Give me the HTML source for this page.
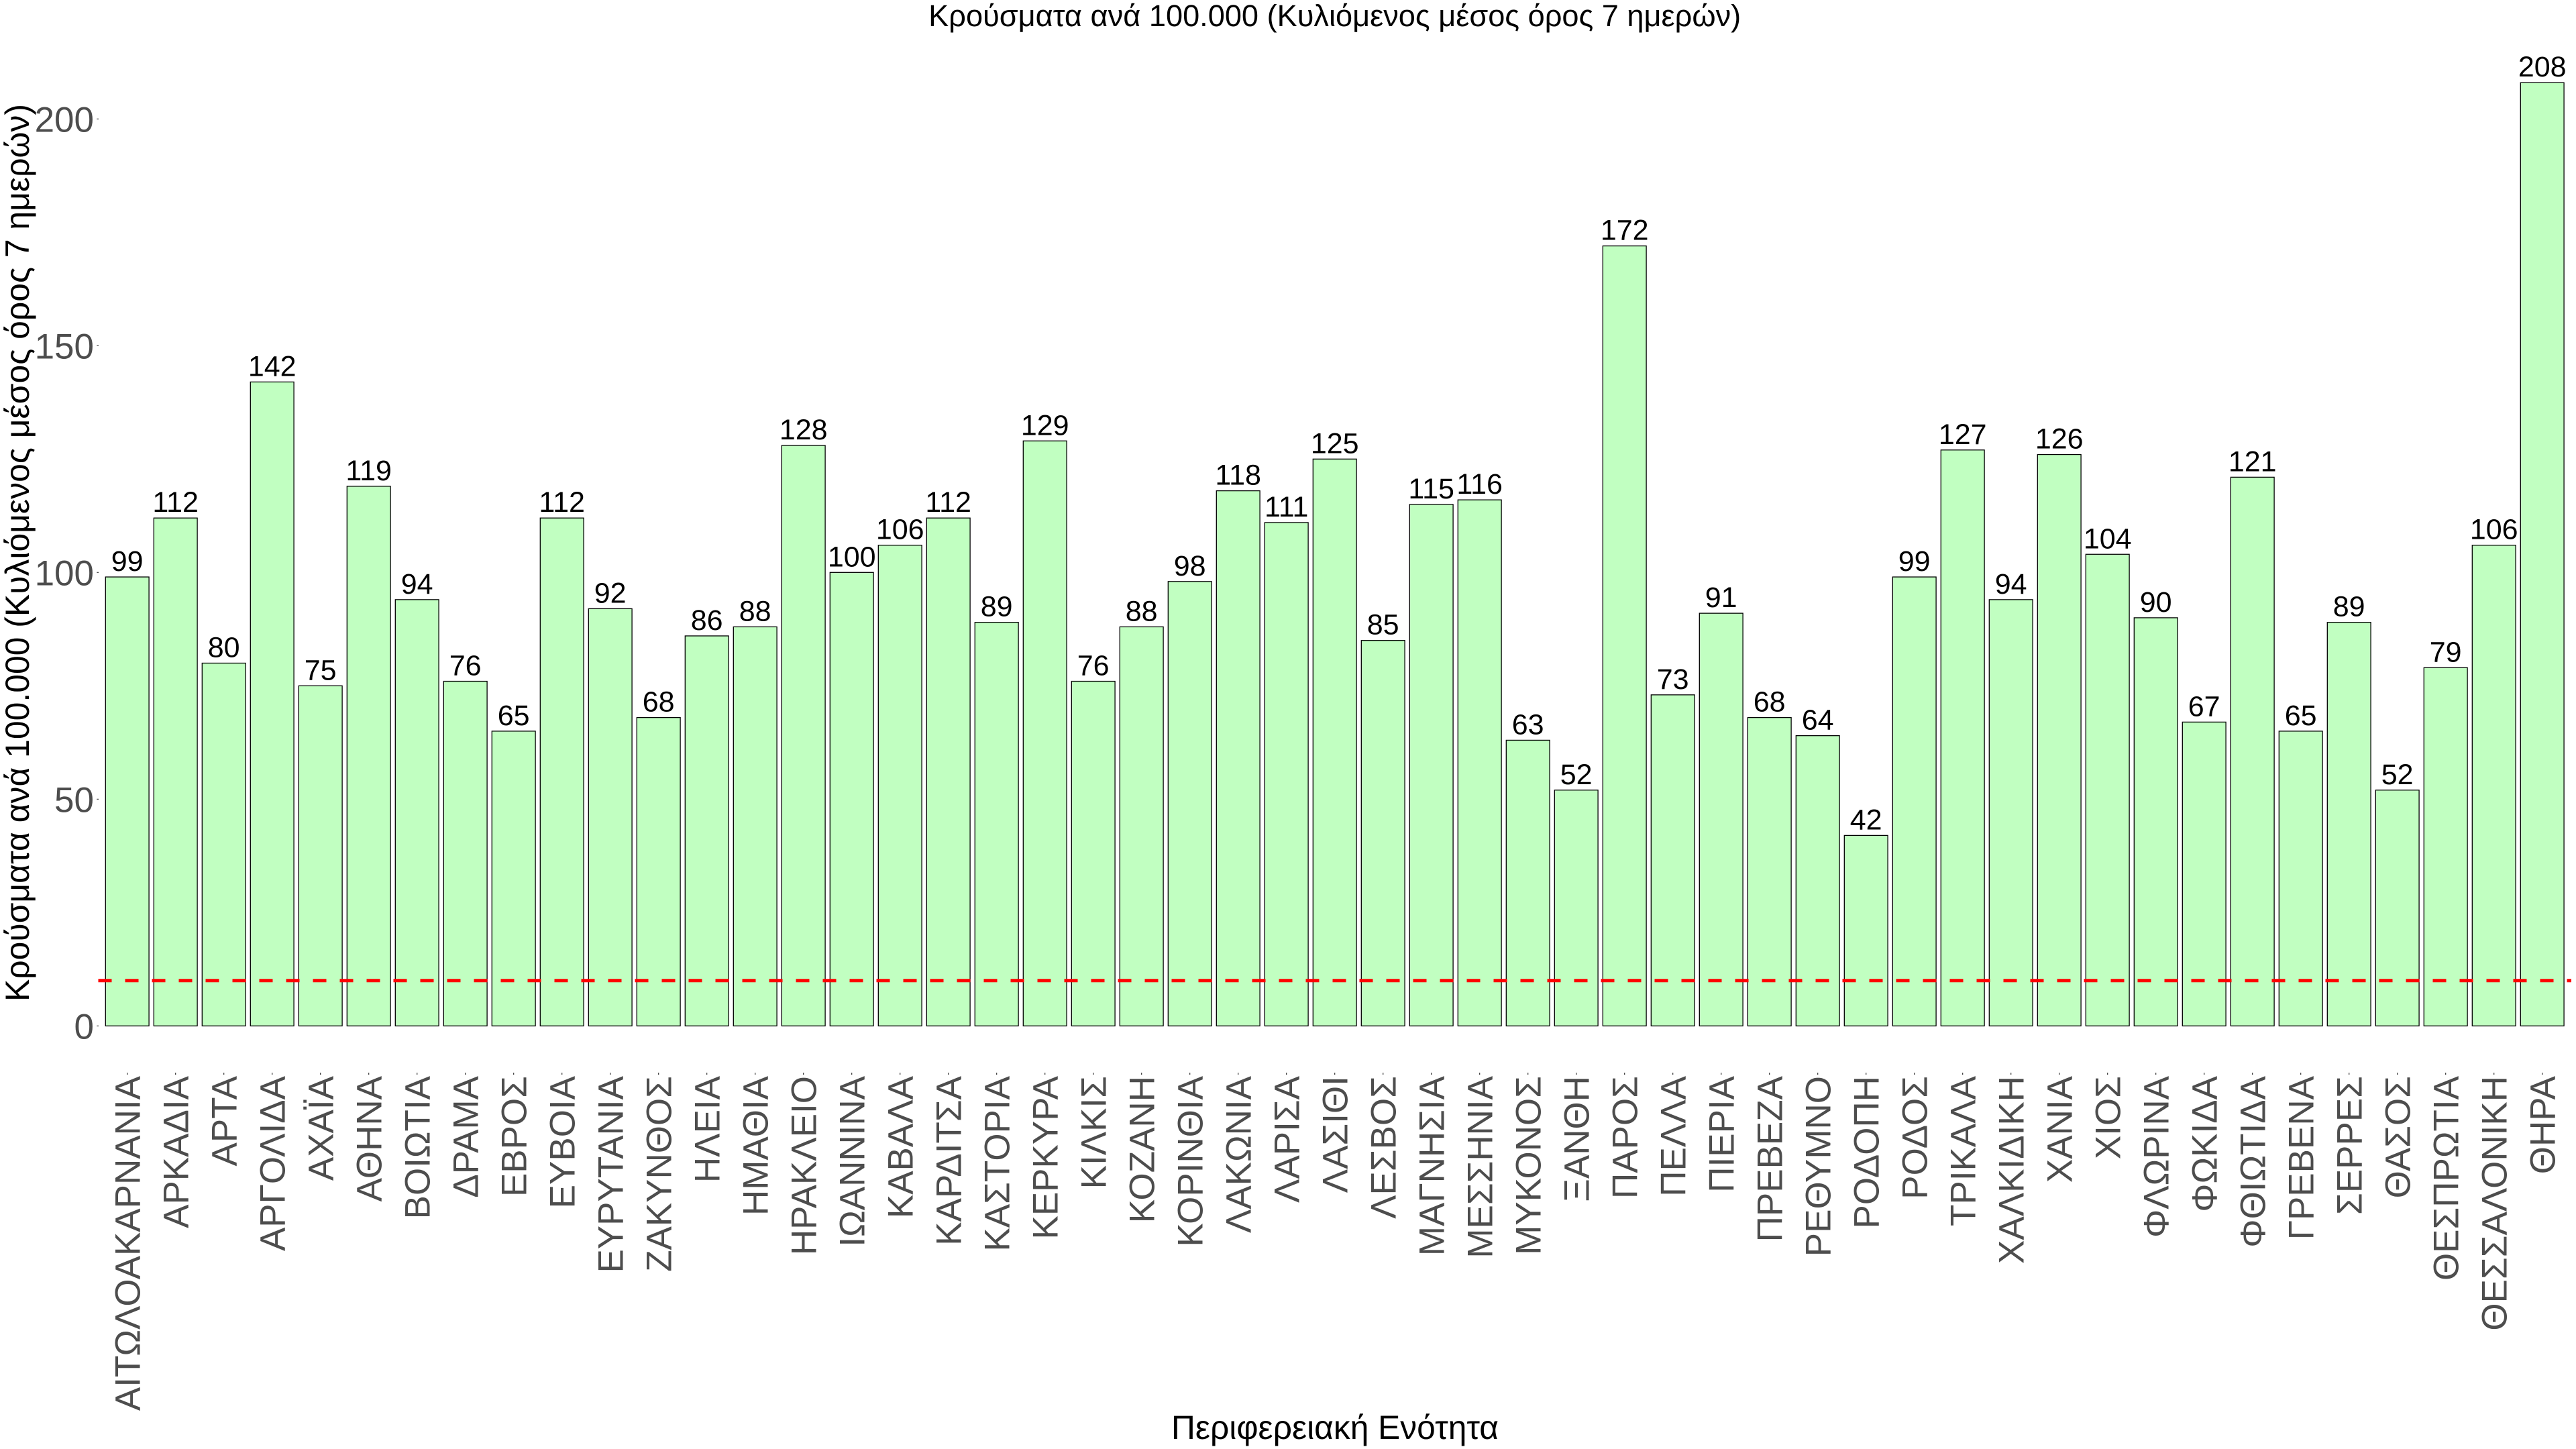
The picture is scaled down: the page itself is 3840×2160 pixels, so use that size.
<!DOCTYPE html>
<html><head><meta charset="utf-8"><style>
html,body{margin:0;padding:0;background:#fff;}
svg{display:block;}
text{font-family:"Liberation Sans",Arial,sans-serif;}
</style></head><body>
<svg width="3840" height="2160" viewBox="0 0 3840 2160" xmlns="http://www.w3.org/2000/svg">
<rect width="3840" height="2160" fill="#fff"/>
<!-- title -->
<text x="1989.7" y="39" font-size="45" text-anchor="middle" fill="#000" textLength="1211" lengthAdjust="spacingAndGlyphs">Κρούσματα ανά 100.000 (Κυλιόμενος μέσος όρος 7 ημερών)</text>
<!-- y title -->
<text transform="translate(43,824) rotate(-90)" font-size="50" text-anchor="middle" fill="#000" textLength="1338" lengthAdjust="spacingAndGlyphs">Κρούσματα ανά 100.000 (Κυλιόμενος μέσος όρος 7 ημερών)</text>
<!-- x title -->
<text x="1990" y="2145" font-size="50" text-anchor="middle" fill="#000" textLength="488" lengthAdjust="spacingAndGlyphs">Περιφερειακή Ενότητα</text>
<!-- y ticks -->
<g stroke="#333" stroke-width="1.2">
<path d="M144.3 1529.3H147M144.3 1191.3H147M144.3 853.3H147M144.3 515.3H147M144.3 177.3H147"/>
</g>
<g font-size="53" fill="#4D4D4D" text-anchor="end">
<text x="140" y="1548.3">0</text>
<text x="140" y="1210.3">50</text>
<text x="140" y="872.3">100</text>
<text x="140" y="534.3">150</text>
<text x="140" y="196.3">200</text>
</g>
<!-- bars -->
<g fill="#C1FFC1" stroke="#000" stroke-width="1.3">
<rect x="157.3" y="860.06" width="64.8" height="669.24"/>
<rect x="229.3" y="772.18" width="64.8" height="757.12"/>
<rect x="301.3" y="988.5" width="64.8" height="540.8"/>
<rect x="373.3" y="569.38" width="64.8" height="959.92"/>
<rect x="445.3" y="1022.3" width="64.8" height="507"/>
<rect x="517.3" y="724.86" width="64.8" height="804.44"/>
<rect x="589.3" y="893.86" width="64.8" height="635.44"/>
<rect x="661.3" y="1015.54" width="64.8" height="513.76"/>
<rect x="733.3" y="1089.9" width="64.8" height="439.4"/>
<rect x="805.3" y="772.18" width="64.8" height="757.12"/>
<rect x="877.3" y="907.38" width="64.8" height="621.92"/>
<rect x="949.3" y="1069.62" width="64.8" height="459.68"/>
<rect x="1021.3" y="947.94" width="64.8" height="581.36"/>
<rect x="1093.3" y="934.42" width="64.8" height="594.88"/>
<rect x="1165.3" y="664.02" width="64.8" height="865.28"/>
<rect x="1237.3" y="853.3" width="64.8" height="676"/>
<rect x="1309.3" y="812.74" width="64.8" height="716.56"/>
<rect x="1381.3" y="772.18" width="64.8" height="757.12"/>
<rect x="1453.3" y="927.66" width="64.8" height="601.64"/>
<rect x="1525.3" y="657.26" width="64.8" height="872.04"/>
<rect x="1597.3" y="1015.54" width="64.8" height="513.76"/>
<rect x="1669.3" y="934.42" width="64.8" height="594.88"/>
<rect x="1741.3" y="866.82" width="64.8" height="662.48"/>
<rect x="1813.3" y="731.62" width="64.8" height="797.68"/>
<rect x="1885.3" y="778.94" width="64.8" height="750.36"/>
<rect x="1957.3" y="684.3" width="64.8" height="845"/>
<rect x="2029.3" y="954.7" width="64.8" height="574.6"/>
<rect x="2101.3" y="751.9" width="64.8" height="777.4"/>
<rect x="2173.3" y="745.14" width="64.8" height="784.16"/>
<rect x="2245.3" y="1103.42" width="64.8" height="425.88"/>
<rect x="2317.3" y="1177.78" width="64.8" height="351.52"/>
<rect x="2389.3" y="366.58" width="64.8" height="1162.72"/>
<rect x="2461.3" y="1035.82" width="64.8" height="493.48"/>
<rect x="2533.3" y="914.14" width="64.8" height="615.16"/>
<rect x="2605.3" y="1069.62" width="64.8" height="459.68"/>
<rect x="2677.3" y="1096.66" width="64.8" height="432.64"/>
<rect x="2749.3" y="1245.38" width="64.8" height="283.92"/>
<rect x="2821.3" y="860.06" width="64.8" height="669.24"/>
<rect x="2893.3" y="670.78" width="64.8" height="858.52"/>
<rect x="2965.3" y="893.86" width="64.8" height="635.44"/>
<rect x="3037.3" y="677.54" width="64.8" height="851.76"/>
<rect x="3109.3" y="826.26" width="64.8" height="703.04"/>
<rect x="3181.3" y="920.9" width="64.8" height="608.4"/>
<rect x="3253.3" y="1076.38" width="64.8" height="452.92"/>
<rect x="3325.3" y="711.34" width="64.8" height="817.96"/>
<rect x="3397.3" y="1089.9" width="64.8" height="439.4"/>
<rect x="3469.3" y="927.66" width="64.8" height="601.64"/>
<rect x="3541.3" y="1177.78" width="64.8" height="351.52"/>
<rect x="3613.3" y="995.26" width="64.8" height="534.04"/>
<rect x="3685.3" y="812.74" width="64.8" height="716.56"/>
<rect x="3757.3" y="123.22" width="64.8" height="1406.08"/>
</g>
<!-- reference line -->
<line x1="146.5" y1="1461.7" x2="3833" y2="1461.7" stroke="#FF0000" stroke-width="5" stroke-dasharray="20 20"/>
<!-- bar labels -->
<g font-size="43" fill="#000" text-anchor="middle">
<text x="189.7" y="851.06">99</text>
<text x="261.7" y="763.18">112</text>
<text x="333.7" y="979.5">80</text>
<text x="405.7" y="560.38">142</text>
<text x="477.7" y="1013.3">75</text>
<text x="549.7" y="715.86">119</text>
<text x="621.7" y="884.86">94</text>
<text x="693.7" y="1006.54">76</text>
<text x="765.7" y="1080.9">65</text>
<text x="837.7" y="763.18">112</text>
<text x="909.7" y="898.38">92</text>
<text x="981.7" y="1060.62">68</text>
<text x="1053.7" y="938.94">86</text>
<text x="1125.7" y="925.42">88</text>
<text x="1197.7" y="655.02">128</text>
<text x="1269.7" y="844.3">100</text>
<text x="1341.7" y="803.74">106</text>
<text x="1413.7" y="763.18">112</text>
<text x="1485.7" y="918.66">89</text>
<text x="1557.7" y="648.26">129</text>
<text x="1629.7" y="1006.54">76</text>
<text x="1701.7" y="925.42">88</text>
<text x="1773.7" y="857.82">98</text>
<text x="1845.7" y="722.62">118</text>
<text x="1917.7" y="769.94">111</text>
<text x="1989.7" y="675.3">125</text>
<text x="2061.7" y="945.7">85</text>
<text x="2133.7" y="742.9">115</text>
<text x="2205.7" y="736.14">116</text>
<text x="2277.7" y="1094.42">63</text>
<text x="2349.7" y="1168.78">52</text>
<text x="2421.7" y="357.58">172</text>
<text x="2493.7" y="1026.82">73</text>
<text x="2565.7" y="905.14">91</text>
<text x="2637.7" y="1060.62">68</text>
<text x="2709.7" y="1087.66">64</text>
<text x="2781.7" y="1236.38">42</text>
<text x="2853.7" y="851.06">99</text>
<text x="2925.7" y="661.78">127</text>
<text x="2997.7" y="884.86">94</text>
<text x="3069.7" y="668.54">126</text>
<text x="3141.7" y="817.26">104</text>
<text x="3213.7" y="911.9">90</text>
<text x="3285.7" y="1067.38">67</text>
<text x="3357.7" y="702.34">121</text>
<text x="3429.7" y="1080.9">65</text>
<text x="3501.7" y="918.66">89</text>
<text x="3573.7" y="1168.78">52</text>
<text x="3645.7" y="986.26">79</text>
<text x="3717.7" y="803.74">106</text>
<text x="3789.7" y="114.22">208</text>
</g>
<!-- x ticks -->
<path stroke="#333" stroke-width="1.2" d="M189.7 1599V1602M261.7 1599V1602M333.7 1599V1602M405.7 1599V1602M477.7 1599V1602M549.7 1599V1602M621.7 1599V1602M693.7 1599V1602M765.7 1599V1602M837.7 1599V1602M909.7 1599V1602M981.7 1599V1602M1053.7 1599V1602M1125.7 1599V1602M1197.7 1599V1602M1269.7 1599V1602M1341.7 1599V1602M1413.7 1599V1602M1485.7 1599V1602M1557.7 1599V1602M1629.7 1599V1602M1701.7 1599V1602M1773.7 1599V1602M1845.7 1599V1602M1917.7 1599V1602M1989.7 1599V1602M2061.7 1599V1602M2133.7 1599V1602M2205.7 1599V1602M2277.7 1599V1602M2349.7 1599V1602M2421.7 1599V1602M2493.7 1599V1602M2565.7 1599V1602M2637.7 1599V1602M2709.7 1599V1602M2781.7 1599V1602M2853.7 1599V1602M2925.7 1599V1602M2997.7 1599V1602M3069.7 1599V1602M3141.7 1599V1602M3213.7 1599V1602M3285.7 1599V1602M3357.7 1599V1602M3429.7 1599V1602M3501.7 1599V1602M3573.7 1599V1602M3645.7 1599V1602M3717.7 1599V1602M3789.7 1599V1602"/>
<!-- x labels -->
<g font-size="53" fill="#4D4D4D" text-anchor="end">
<text transform="translate(208.7,1604) rotate(-90)">ΑΙΤΩΛΟΑΚΑΡΝΑΝΙΑ</text>
<text transform="translate(280.7,1604) rotate(-90)">ΑΡΚΑΔΙΑ</text>
<text transform="translate(352.7,1604) rotate(-90)">ΑΡΤΑ</text>
<text transform="translate(424.7,1604) rotate(-90)">ΑΡΓΟΛΙΔΑ</text>
<text transform="translate(496.7,1604) rotate(-90)">ΑΧΑΪΑ</text>
<text transform="translate(568.7,1604) rotate(-90)">ΑΘΗΝΑ</text>
<text transform="translate(640.7,1604) rotate(-90)">ΒΟΙΩΤΙΑ</text>
<text transform="translate(712.7,1604) rotate(-90)">ΔΡΑΜΑ</text>
<text transform="translate(784.7,1604) rotate(-90)">ΕΒΡΟΣ</text>
<text transform="translate(856.7,1604) rotate(-90)">ΕΥΒΟΙΑ</text>
<text transform="translate(928.7,1604) rotate(-90)">ΕΥΡΥΤΑΝΙΑ</text>
<text transform="translate(1000.7,1604) rotate(-90)">ΖΑΚΥΝΘΟΣ</text>
<text transform="translate(1072.7,1604) rotate(-90)">ΗΛΕΙΑ</text>
<text transform="translate(1144.7,1604) rotate(-90)">ΗΜΑΘΙΑ</text>
<text transform="translate(1216.7,1604) rotate(-90)">ΗΡΑΚΛΕΙΟ</text>
<text transform="translate(1288.7,1604) rotate(-90)">ΙΩΑΝΝΙΝΑ</text>
<text transform="translate(1360.7,1604) rotate(-90)">ΚΑΒΑΛΑ</text>
<text transform="translate(1432.7,1604) rotate(-90)">ΚΑΡΔΙΤΣΑ</text>
<text transform="translate(1504.7,1604) rotate(-90)">ΚΑΣΤΟΡΙΑ</text>
<text transform="translate(1576.7,1604) rotate(-90)">ΚΕΡΚΥΡΑ</text>
<text transform="translate(1648.7,1604) rotate(-90)">ΚΙΛΚΙΣ</text>
<text transform="translate(1720.7,1604) rotate(-90)">ΚΟΖΑΝΗ</text>
<text transform="translate(1792.7,1604) rotate(-90)">ΚΟΡΙΝΘΙΑ</text>
<text transform="translate(1864.7,1604) rotate(-90)">ΛΑΚΩΝΙΑ</text>
<text transform="translate(1936.7,1604) rotate(-90)">ΛΑΡΙΣΑ</text>
<text transform="translate(2008.7,1604) rotate(-90)">ΛΑΣΙΘΙ</text>
<text transform="translate(2080.7,1604) rotate(-90)">ΛΕΣΒΟΣ</text>
<text transform="translate(2152.7,1604) rotate(-90)">ΜΑΓΝΗΣΙΑ</text>
<text transform="translate(2224.7,1604) rotate(-90)">ΜΕΣΣΗΝΙΑ</text>
<text transform="translate(2296.7,1604) rotate(-90)">ΜΥΚΟΝΟΣ</text>
<text transform="translate(2368.7,1604) rotate(-90)">ΞΑΝΘΗ</text>
<text transform="translate(2440.7,1604) rotate(-90)">ΠΑΡΟΣ</text>
<text transform="translate(2512.7,1604) rotate(-90)">ΠΕΛΛΑ</text>
<text transform="translate(2584.7,1604) rotate(-90)">ΠΙΕΡΙΑ</text>
<text transform="translate(2656.7,1604) rotate(-90)">ΠΡΕΒΕΖΑ</text>
<text transform="translate(2728.7,1604) rotate(-90)">ΡΕΘΥΜΝΟ</text>
<text transform="translate(2800.7,1604) rotate(-90)">ΡΟΔΟΠΗ</text>
<text transform="translate(2872.7,1604) rotate(-90)">ΡΟΔΟΣ</text>
<text transform="translate(2944.7,1604) rotate(-90)">ΤΡΙΚΑΛΑ</text>
<text transform="translate(3016.7,1604) rotate(-90)">ΧΑΛΚΙΔΙΚΗ</text>
<text transform="translate(3088.7,1604) rotate(-90)">ΧΑΝΙΑ</text>
<text transform="translate(3160.7,1604) rotate(-90)">ΧΙΟΣ</text>
<text transform="translate(3232.7,1604) rotate(-90)">ΦΛΩΡΙΝΑ</text>
<text transform="translate(3304.7,1604) rotate(-90)">ΦΩΚΙΔΑ</text>
<text transform="translate(3376.7,1604) rotate(-90)">ΦΘΙΩΤΙΔΑ</text>
<text transform="translate(3448.7,1604) rotate(-90)">ΓΡΕΒΕΝΑ</text>
<text transform="translate(3520.7,1604) rotate(-90)">ΣΕΡΡΕΣ</text>
<text transform="translate(3592.7,1604) rotate(-90)">ΘΑΣΟΣ</text>
<text transform="translate(3664.7,1604) rotate(-90)">ΘΕΣΠΡΩΤΙΑ</text>
<text transform="translate(3736.7,1604) rotate(-90)">ΘΕΣΣΑΛΟΝΙΚΗ</text>
<text transform="translate(3808.7,1604) rotate(-90)">ΘΗΡΑ</text>
</g>
</svg>
</body></html>
